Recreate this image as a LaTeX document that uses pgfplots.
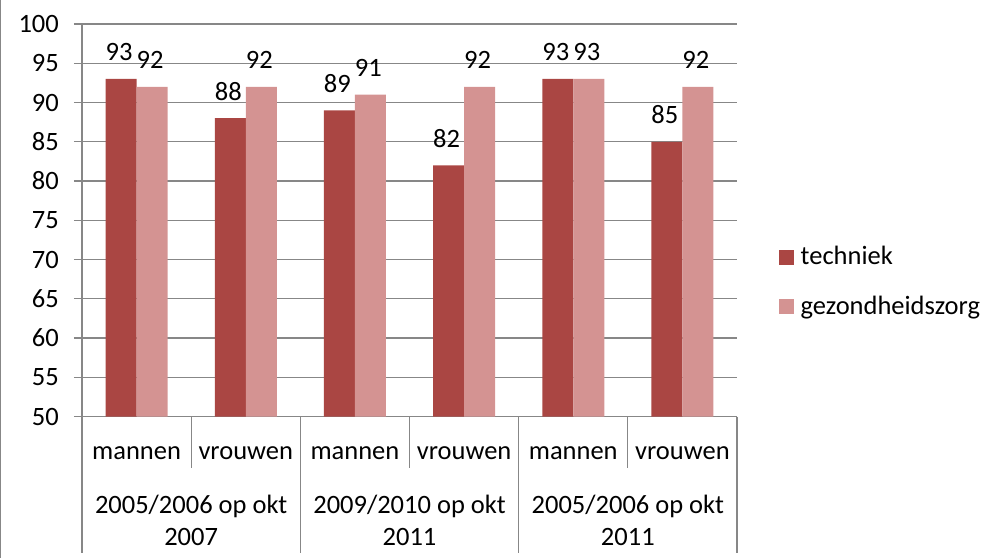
\documentclass[border=0pt]{standalone}
\usepackage{pgfplots}
\pgfplotsset{compat=1.18}
\usepackage{fontspec}
\setmainfont{Carlito}
\definecolor{techn}{HTML}{AA4643}
\definecolor{gezond}{HTML}{D49392}
\definecolor{axgray}{HTML}{878787}
\begin{document}
\fontsize{26.5}{32}\selectfont
\begin{tikzpicture}
\useasboundingbox (0,0) rectangle (984pt,-558pt);
\draw[axgray, line width=1.2pt] (0.6pt,0) -- (0.6pt,-558pt);
\begin{axis}[
  at={(82pt,-416.5pt)}, anchor=south west,
  scale only axis, width=655pt, height=392.5pt,
  /pgf/number format/assume math mode=true,
  font=\fontsize{26.5}{32}\selectfont,
  ymin=50, ymax=100, ytick={50,55,...,100},
  xmin=-0.5, xmax=5.5,
  ybar=0pt, bar width=31pt,
  axis lines*=left,
  axis line style={axgray, line width=1.2pt},
  ymajorgrids, grid style={axgray, line width=1.2pt},
  tick align=outside,
  ytick style={axgray, line width=1.2pt},
  major tick length=8pt,
  yticklabel style={anchor=east, inner sep=0pt, xshift=-15pt},
  xtick={0,...,5},
  xticklabels={mannen,vrouwen,mannen,vrouwen,mannen,vrouwen},
  xtick style={draw=none},
  xticklabel style={anchor=base, inner sep=0pt, yshift=-34.5pt, align=center},
  extra x ticks={0.5,2.5,4.5},
  extra x tick labels={{2005/2006 op okt\\2007},{2009/2010 op okt\\2011},{2005/2006 op okt\\2011}},
  extra x tick style={grid=none, xticklabel style={anchor=north, yshift=-36pt}},
  nodes near coords,
  nodes near coords style={anchor=base, inner sep=0pt, yshift=18pt, xshift=-2pt, text=black},
  clip=false,
  legend style={draw=none, fill=none, inner sep=0pt, outer sep=0pt,
    at={(1.0641,0.433)}, anchor=north west, row sep=27pt, column sep=6.7pt,
    nodes={inner sep=0pt, anchor=base west}},
]
\addplot[fill=techn, draw=none, legend image code/.code={\fill[techn] (0pt,0pt) rectangle (15pt,15pt);}]
  coordinates {(0,93) (1,88) (2,89) (3,82) (4,93) (5,85)};
\addplot[fill=gezond, draw=none, legend image code/.code={\fill[gezond] (0pt,0pt) rectangle (15pt,15pt);}]
  coordinates {(0,92) (1,92) (2,91) (3,92) (4,93) (5,92)};
\legend{techniek, gezondheidszorg}
\pgfplotsinvokeforeach{-0.5,1.5,3.5,5.5}{
  \draw[axgray, line width=1.2pt] (axis cs:#1,50) -- ++(0pt,-136.5pt);
}
\pgfplotsinvokeforeach{0.5,2.5,4.5}{
  \draw[axgray, line width=1.2pt] (axis cs:#1,50) -- ++(0pt,-51.5pt);
}
\end{axis}
\end{tikzpicture}
\end{document}
